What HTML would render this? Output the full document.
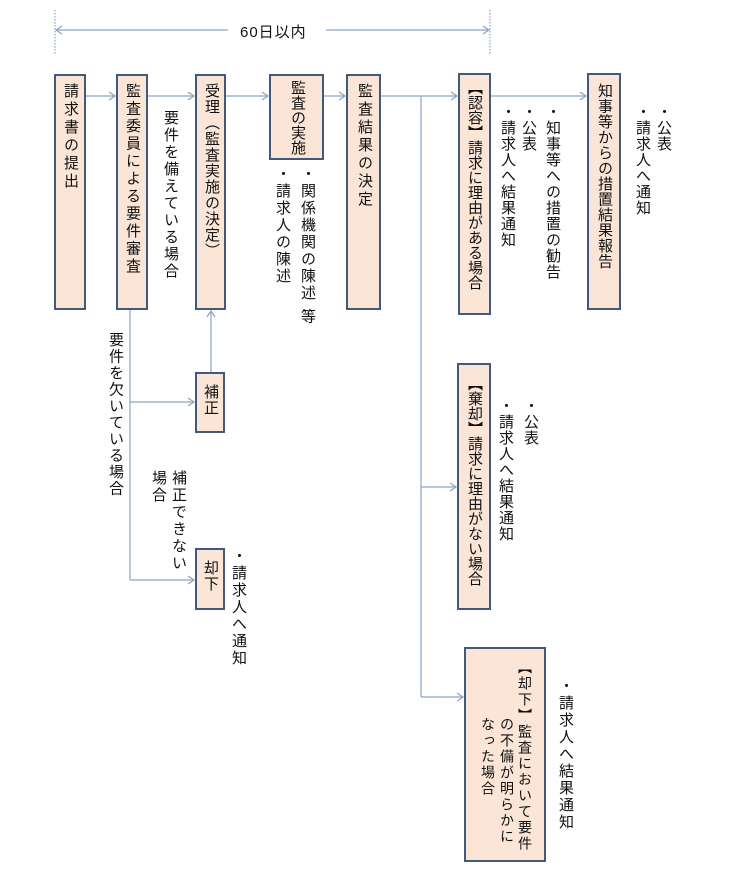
<!DOCTYPE html>
<html><head><meta charset="utf-8"><style>
body{margin:0;background:#fff;width:748px;height:871px;position:relative;overflow:hidden;font-family:"Liberation Sans","Noto Sans CJK JP",sans-serif;color:#111}
.b{position:absolute;background:#fbe5d6;border:2px solid #41597a;box-sizing:border-box}
.v{position:absolute;writing-mode:vertical-rl;font-size:15px;letter-spacing:1px;line-height:16px;width:16px;white-space:nowrap}
.s{font-size:14px;letter-spacing:2px}
svg{position:absolute;left:0;top:0}
</style></head><body>
<svg width="748" height="871" fill="none" stroke="#8aa4c8" stroke-width="1.2">
<line x1="55" y1="10" x2="55" y2="55" stroke-dasharray="1.5,1.5"/>
<line x1="490" y1="10" x2="490" y2="55" stroke-dasharray="1.5,1.5"/>
<line x1="56" y1="30" x2="228" y2="30"/><polyline points="62,26 56,30 62,34"/>
<line x1="326" y1="30" x2="489" y2="30"/><polyline points="483,26 489,30 483,34"/>
<line x1="86" y1="96" x2="115" y2="96"/><polyline points="109,92 115,96 109,100"/>
<line x1="148" y1="96" x2="194" y2="96"/><polyline points="188,92 194,96 188,100"/>
<line x1="226" y1="96" x2="268" y2="96"/><polyline points="262,92 268,96 262,100"/>
<line x1="324" y1="96" x2="345" y2="96"/><polyline points="339,92 345,96 339,100"/>
<line x1="381" y1="96" x2="457" y2="96"/><polyline points="451,92 457,96 451,100"/>
<line x1="491" y1="96" x2="586" y2="96"/><polyline points="580,92 586,96 580,100"/>
<line x1="421" y1="96" x2="421" y2="697"/>
<line x1="421" y1="487" x2="456" y2="487"/><polyline points="450,483 456,487 450,491"/>
<line x1="421" y1="697" x2="463" y2="697"/><polyline points="457,693 463,697 457,701"/>
<line x1="130" y1="310" x2="130" y2="580"/>
<line x1="130" y1="402" x2="194" y2="402"/><polyline points="188,398 194,402 188,406"/>
<line x1="130" y1="580" x2="194" y2="580"/><polyline points="188,576 194,580 188,584"/>
<line x1="211" y1="372" x2="211" y2="311"/><polyline points="207,317 211,311 215,317"/>
</svg>
<div style="position:absolute;left:240px;top:21px;font-size:15px;letter-spacing:1px">60日以内</div>

<div class="b" style="left:54px;top:74px;width:32px;height:236px"></div>
<div class="b" style="left:116px;top:74px;width:32px;height:236px"></div>
<div class="b" style="left:195px;top:74px;width:31px;height:236px"></div>
<div class="b" style="left:269px;top:74px;width:55px;height:86px"></div>
<div class="b" style="left:346px;top:74px;width:35px;height:236px"></div>
<div class="b" style="left:458px;top:73px;width:33px;height:242px"></div>
<div class="b" style="left:587px;top:73px;width:34px;height:237px"></div>
<div class="b" style="left:195px;top:372px;width:30px;height:61px"></div>
<div class="b" style="left:195px;top:548px;width:30px;height:62px"></div>
<div class="b" style="left:457px;top:363px;width:34px;height:247px"></div>
<div class="b" style="left:464px;top:647px;width:82px;height:215px"></div>

<div class="v" style="left:62px;top:83px;letter-spacing:3px">請求書の提出</div>
<div class="v" style="left:124px;top:83px;letter-spacing:2.5px">監査委員による要件審査</div>
<div class="v" style="left:162px;top:110px;letter-spacing:2px">要件を備えている場合</div>
<div class="v" style="left:203px;top:83px;letter-spacing:1px">受理（監査実施の決定）</div>
<div class="v" style="left:289px;top:80px;letter-spacing:0">監査の実施</div>
<div class="v" style="left:299px;top:166px;letter-spacing:2px">・関係機関の陳述 等</div>
<div class="v" style="left:274px;top:166px;letter-spacing:2px">・請求人の陳述</div>
<div class="v" style="left:356px;top:83px;letter-spacing:3px">監査結果の決定</div>
<div class="v" style="left:466px;top:80px;letter-spacing:0">【認容】請求に理由がある場合</div>
<div class="v" style="left:544px;top:104px">・知事等への措置の勧告</div>
<div class="v" style="left:520px;top:104px">・公表</div>
<div class="v" style="left:499px;top:104px">・請求人へ結果通知</div>
<div class="v" style="left:596px;top:83px;letter-spacing:0.5px">知事等からの措置結果報告</div>
<div class="v" style="left:655px;top:104px">・公表</div>
<div class="v" style="left:634px;top:104px">・請求人へ通知</div>
<div class="v" style="left:107px;top:332px;letter-spacing:1.5px">要件を欠いている場合</div>
<div class="v" style="left:202px;top:384px">補正</div>
<div class="v" style="left:170px;top:470px;letter-spacing:2px">補正できない</div>
<div class="v" style="left:150px;top:470px;letter-spacing:2px">場合</div>
<div class="v" style="left:202px;top:560px">却下</div>
<div class="v" style="left:230px;top:548px;letter-spacing:2px">・請求人へ通知</div>
<div class="v" style="left:466px;top:376px;letter-spacing:0">【棄却】請求に理由がない場合</div>
<div class="v" style="left:522px;top:398px">・公表</div>
<div class="v" style="left:497px;top:398px">・請求人へ結果通知</div>
<div class="v s" style="left:517px;top:660px">【却下】監査において要件</div>
<div class="v s" style="left:499px;top:717px">の不備が明らかに</div>
<div class="v s" style="left:480px;top:717px">なった場合</div>
<div class="v" style="left:557px;top:678px;letter-spacing:2px">・請求人へ結果通知</div>
</body></html>
